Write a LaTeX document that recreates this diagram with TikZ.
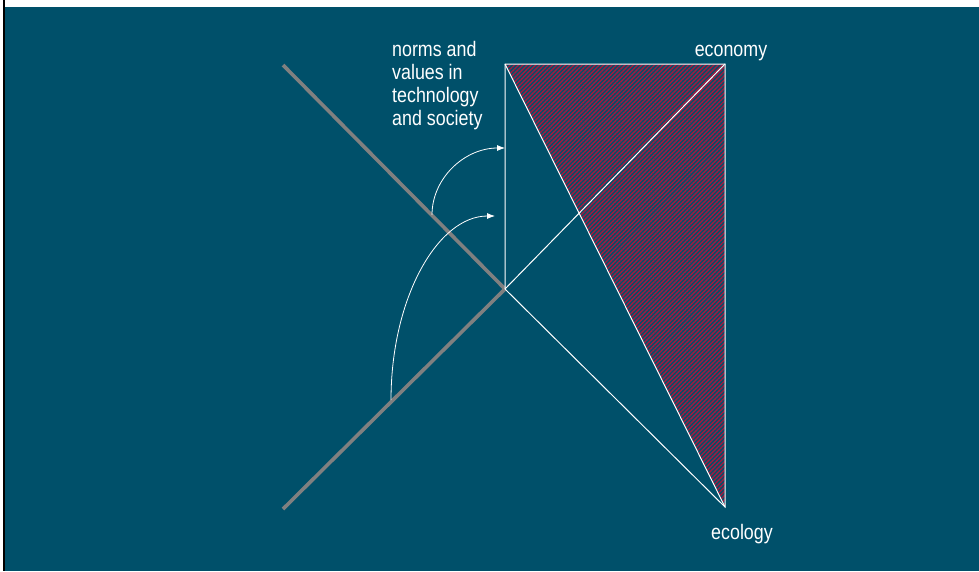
\documentclass[tikz,border=0pt]{standalone}
\usepackage{fontspec}
\setmainfont{Liberation Sans}[FakeStretch=0.85]
\usepackage{tikz}
\usetikzlibrary{arrows.meta,patterns.meta}
\definecolor{sea}{HTML}{00506A}
\definecolor{axis}{HTML}{808080}
\definecolor{hatch}{HTML}{A01A40}

\begin{document}
\begin{tikzpicture}[x=1pt,y=-1pt,
  edge/.style={draw=white,line width=1pt},
  ax/.style={draw=axis,line width=3.6pt},
  lbl/.style={text=white,inner sep=0pt,font=\fontsize{21}{23}\selectfont},
  arr/.style={-{Latex[length=8pt,width=6pt]},draw=white,line width=0.8pt}]
  \useasboundingbox (0,0) rectangle (979,571);
  \fill[white] (0,0) rectangle (979,571);
  \fill[sea] (5,7) rectangle (979,571);
  \draw[black,line width=2pt] (4,0) -- (4,571);
  % corners
  \coordinate (o) at (505,289);
  \coordinate (norms) at (505,64);
  \coordinate (eco) at (725,64);
  \coordinate (ecol) at (725,507);
  \coordinate (up) at (283,65);
  \coordinate (lo) at (283,509);
  % hatched triangle
  \fill[pattern={Lines[angle=45,distance=3pt,line width=1.4pt]},pattern color=hatch] (norms) -- (eco) -- (ecol) -- cycle;
  % axes
  \draw[ax] (up) -- (o); \draw[ax] (lo) -- (o);
  \draw[edge] (o) -- (norms) -- (eco) -- (ecol) -- (o);
  \draw[edge] (o) -- (eco); \draw[edge] (norms) -- (ecol);
  % turning arrows
  \coordinate (s1) at (432,215);
  \coordinate (s2) at (391,400);
  \draw[arr] (s1) arc[start angle=180,end angle=90,x radius=73pt,y radius=67pt];
  \draw[arr] (s2) arc[start angle=180,end angle=90,x radius=104pt,y radius=184pt];
  % labels
  \node[lbl,anchor=north west,align=left] (nv) at (392,41) {norms and\\values in\\technology\\and society};
  \node[lbl,anchor=base] (econ) at (731,56) {economy};
  \node[lbl,anchor=base] (ecolog) at (742,539) {ecology};
\end{tikzpicture}
\end{document}
